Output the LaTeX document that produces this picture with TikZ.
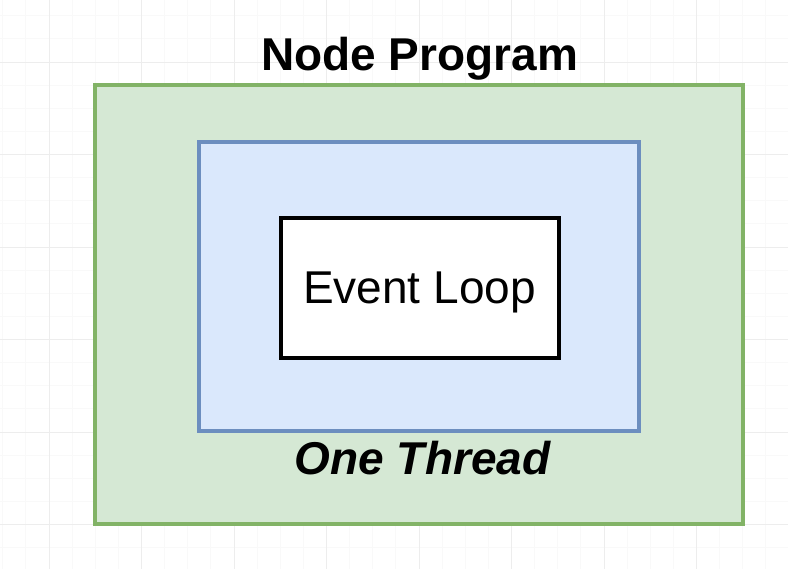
\documentclass[tikz,border=0pt]{standalone}
\usepackage{fontspec}
\setmainfont{Liberation Sans}
\definecolor{gfill}{HTML}{D5E8D4}
\definecolor{gline}{HTML}{82B366}
\definecolor{bfill}{HTML}{DAE8FC}
\definecolor{bline}{HTML}{6C8EBF}
\definecolor{gridminor}{HTML}{F9F9F9}
\definecolor{gridmajor}{HTML}{EDEDED}
\tikzset{
  box/.style={draw, rectangle, inner sep=0pt},
  greenbox/.style={box, fill=gfill, draw=gline, line width=4.5pt},
  bluebox/.style={box, fill=bfill, draw=bline, line width=4.5pt},
  loopbox/.style={box, fill=white, draw=black, line width=4pt, text depth=0pt, font=\fontsize{46}{50}\selectfont},
  titletext/.style={anchor=base, inner sep=0pt, font=\fontsize{46}{50}\selectfont\bfseries},
  threadtext/.style={anchor=base, inner sep=0pt, font=\fontsize{46}{50}\selectfont\bfseries\itshape}
}
\begin{document}
\begin{tikzpicture}[x=1pt,y=-1pt]
\useasboundingbox (0,0) rectangle (788,569);
\fill[white] (0,0) rectangle (788,569);
% grid
\foreach \i in {0,...,34} {
  \draw[gridminor, line width=0.8pt] ({2.75+\i*23.125},0) -- ({2.75+\i*23.125},569);
}
\foreach \i in {0,...,24} {
  \draw[gridminor, line width=0.8pt] (0,{15.75+\i*23.125}) -- (788,{15.75+\i*23.125});
}
\foreach \i in {0,...,8} {
  \draw[gridmajor, line width=0.8pt] ({49+\i*92.5},0) -- ({49+\i*92.5},569);
}
\foreach \i in {0,...,5} {
  \draw[gridmajor, line width=0.8pt] (0,{62+\i*92.5}) -- (788,{62+\i*92.5});
}
% boxes
\node[greenbox, minimum width=648pt, minimum height=439pt] (program) at (419,304.5) {};
\node[bluebox, minimum width=440pt, minimum height=289pt] (thread) at (419,286.5) {};
\node[loopbox, minimum width=278pt, minimum height=139.5pt] (loop) at (419.5,288) {Event Loop};
% labels
\node[titletext] (title) at (419.5,71) {Node Program};
\node[threadtext] (threadlabel) at (422.5,475) {One Thread};
\end{tikzpicture}
\end{document}
